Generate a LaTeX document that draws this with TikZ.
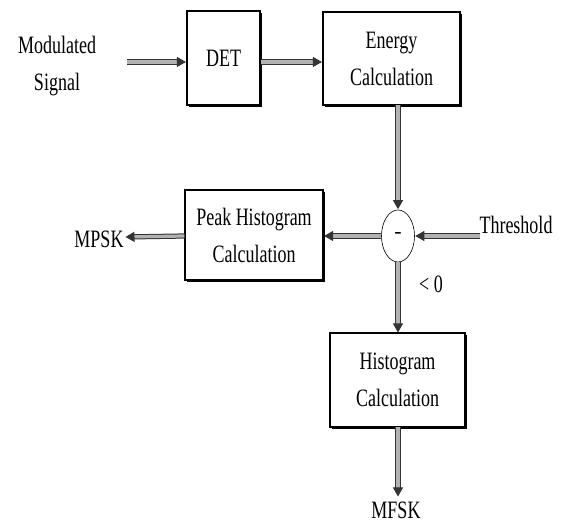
\documentclass[tikz,border=0pt]{standalone}
\usepackage{fontspec}
\setmainfont{Liberation Serif}
\usetikzlibrary{arrows.meta,shapes.geometric,shadows}
\newcommand\sx[1]{\scalebox{0.72}[1]{#1}}
\begin{document}
\begin{tikzpicture}[x=1pt,y=-1pt,
  lbl/.style={font=\fontsize{25}{37}\selectfont, align=center, inner sep=0pt},
  blockbox/.style={draw=black, line width=1.2pt, fill=white, lbl,
    general shadow={shadow xshift=1.8pt, shadow yshift=-1.8pt, fill=black},
    minimum width=#1},
  flow/.style={draw=black!80, line width=1pt, double=gray!60, double distance=3.2pt,
    -{Triangle[length=9pt,width=10pt]}, shorten >=0.5pt}
]
\useasboundingbox[fill=white] (0,0) rectangle (563,526);

\node[lbl] (mod) at (57,66) {\sx{Modulated}\\\sx{Signal}};
\node[blockbox=73pt, minimum height=94pt] (det) at (223.5,58) {\sx{DET}};
\node[blockbox=137pt, minimum height=93pt] (en) at (391.5,58.5) {\sx{Energy}\\\sx{Calculation}};
\node[draw=black, line width=0.6pt, ellipse, minimum width=33pt, minimum height=52pt,
      inner sep=0pt, fill=white, font=\fontsize{22}{24}\selectfont] (circ) at (398,236) {-};
\node[lbl] (thr) at (516,225) {\sx{Threshold}};
\node[blockbox=138pt, minimum height=90pt] (peak) at (254,235) {\sx{Peak Histogram}\\\sx{Calculation}};
\node[lbl] (mpsk) at (99,239) {\sx{MPSK}};
\node[lbl] (lt) at (431,284) {\sx{< 0}};
\node[blockbox=135pt, minimum height=94pt] (hist) at (397.5,380) {\sx{Histogram}\\\sx{Calculation}};
\node[lbl] (mfsk) at (396,510) {\sx{MFSK}};

\coordinate (m0) at (127,62);
\coordinate (detin) at (det.west |- m0);
\coordinate (detout) at (det.east |- m0);
\coordinate (enin) at (en.west |- m0);
\coordinate (enout) at (398,105);
\coordinate (t0) at (480,236);
\coordinate (pin) at (peak.east |- circ.west);
\coordinate (pout) at (peak.west |- circ.west);
\coordinate (mp) at (125,237);
\coordinate (hin) at (398,333);
\coordinate (hout) at (398,427);
\coordinate (mf) at (398,497);

\draw[flow] (m0) -- (detin);
\draw[flow] (detout) -- (enin);
\draw[flow] (enout) -- (circ.north);
\draw[flow] (t0) -- (circ.east);
\draw[flow] (circ.west) -- (pin);
\draw[flow] (pout) -- (mp);
\draw[flow] (circ.south) -- (hin);
\draw[flow] (hout) -- (mf);
\end{tikzpicture}
\end{document}
